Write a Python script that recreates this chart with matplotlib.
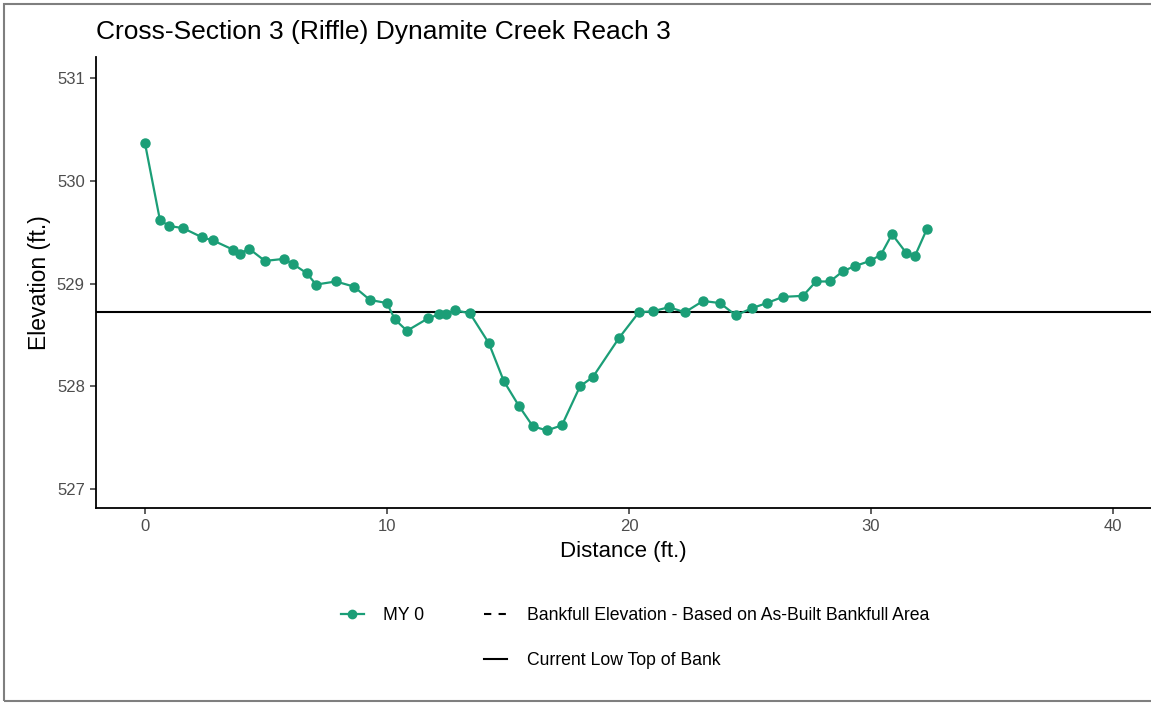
import matplotlib
matplotlib.use("Agg")
import matplotlib.pyplot as plt
from matplotlib.lines import Line2D
from matplotlib.patches import Rectangle

plt.rcParams['font.family'] = ['Liberation Sans', 'DejaVu Sans']

distance = [0.0, 0.62, 0.99, 1.57, 2.36, 2.81, 3.64, 3.93, 4.30, 4.96, 5.74, 6.12,
            6.69, 7.07, 7.89, 8.64, 9.30, 10.0, 10.33, 10.83, 11.69, 12.15, 12.44,
            12.81, 13.43, 14.21, 14.83, 15.45, 16.03, 16.61, 17.23, 17.98, 18.51,
            19.59, 20.41, 21.0, 21.65, 22.31, 23.06, 23.76, 24.42, 25.08, 25.70,
            26.36, 27.19, 27.73, 28.31, 28.84, 29.34, 29.96, 30.41, 30.87, 31.45,
            31.82, 32.31]
elevation = [530.37, 529.62, 529.56, 529.54, 529.45, 529.42, 529.33, 529.29, 529.34,
             529.22, 529.24, 529.19, 529.10, 528.99, 529.02, 528.97, 528.84, 528.81,
             528.65, 528.54, 528.66, 528.70, 528.70, 528.74, 528.71, 528.42, 528.05,
             527.81, 527.61, 527.57, 527.62, 528.00, 528.09, 528.47, 528.72, 528.73,
             528.77, 528.72, 528.83, 528.81, 528.69, 528.76, 528.81, 528.87, 528.88,
             529.02, 529.02, 529.12, 529.17, 529.22, 529.28, 529.48, 529.30, 529.27,
             529.53]
low_top_of_bank = 528.72
x_ticks = [0, 10, 20, 30, 40]
y_ticks = [527, 528, 529, 530, 531]

green = '#1B9E77'
W, H = 1151, 704
fig = plt.figure(figsize=(W / 100, H / 100), dpi=100)
ax = fig.add_axes([96 / W, 1 - 508 / H, 1 - 96 / W, (508 - 57) / H])

ax.plot(distance, elevation, color=green, lw=1.6, marker='o', ms=6.5, zorder=3)
ax.axhline(low_top_of_bank, color='black', lw=1.5, zorder=2)

ax.set_xlim(-2.02, 41.57)
ax.set_ylim(526.815, 531.205)
ax.set_xticks(x_ticks)
ax.set_yticks(y_ticks)
for s in ['top', 'right']:
    ax.spines[s].set_visible(False)
for s in ['left', 'bottom']:
    ax.spines[s].set_linewidth(1.3)
    ax.spines[s].set_color('black')
ax.tick_params(axis='both', length=4, width=1.1, color='#333333',
               labelsize=12, labelcolor='#4D4D4D', pad=4)

ax.set_xlabel('Distance (ft.)', fontsize=16, color='black', labelpad=5)
ax.set_ylabel('Elevation (ft.)', fontsize=16.5, color='black', labelpad=4)
fig.text(96 / W, 1 - 32 / H, 'Cross-Section 3 (Riffle) Dynamite Creek Reach 3',
         fontsize=19, ha='left', va='center', color='black')

h_my0 = Line2D([], [], color=green, lw=1.6, marker='o', ms=6)
h_blank = Line2D([], [], color='none', lw=0)
h_bank = Line2D([], [], color='black', lw=1.5, ls=(0, (3.5, 3.5)))
h_low = Line2D([], [], color='black', lw=1.5)
leg = fig.legend([h_my0, h_blank, h_bank, h_low],
                 ['MY 0', '', 'Bankfull Elevation - Based on As-Built Bankfull Area',
                  'Current Low Top of Bank'],
                 ncol=2, loc='center', bbox_to_anchor=(635 / W, 1 - 638 / H),
                 frameon=False, fontsize=12.7, handlelength=1.3, handletextpad=1.1,
                 columnspacing=3.4, labelspacing=1.6)

fig.patches.append(Rectangle((4 / W, 3 / H), 1, 1 - 7 / H, transform=fig.transFigure,
                             fill=False, edgecolor='#7f7f7f', lw=1.5))

fig.savefig('out.png', dpi=100)
